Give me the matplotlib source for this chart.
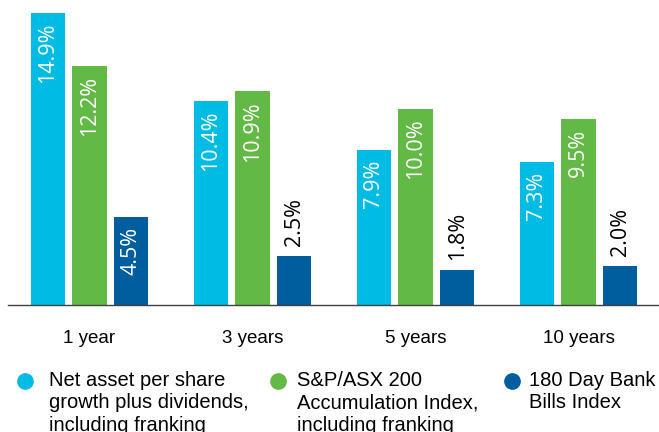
import matplotlib.pyplot as plt
from matplotlib.lines import Line2D
import numpy as np

# 数据
periods = ['1 year', '3 years', '5 years', '10 years']
nav_growth = [14.9, 10.4, 7.9, 7.3]
asx200 = [12.2, 10.9, 10.0, 9.5]
bank_bills = [4.5, 2.5, 1.8, 2.0]
series_names = ['Net asset per share\ngrowth plus dividends,\nincluding franking',
                'S&P/ASX 200\nAccumulation Index,\nincluding franking',
                '180 Day Bank\nBills Index']
colors = ['#00BCE4', '#63B946', '#005E9E']

W, H = 659, 432
fig = plt.figure(figsize=(W / 100, H / 100), dpi=100)
# 坐标轴位置（像素换算）
ax = fig.add_axes([8 / W, 127 / H, 652 / W, 294 / H])

x = np.arange(len(periods))
width = 0.209
step = 0.255
series = [nav_growth, asx200, bank_bills]

for i, (vals, c) in enumerate(zip(series, colors)):
    pos = x + (i - 1) * step
    ax.bar(pos, vals, width=width, color=c)
    for p, v in zip(pos, vals):
        label = f'{v:.1f}%'
        if v > 3:
            ax.annotate(label, (p, v), xytext=(0, -7), textcoords='offset points',
                        rotation=90, ha='center', va='top', color='white',
                        fontsize=15.5, family='Open Sans')
        else:
            ax.annotate(label, (p, v), xytext=(0, 7), textcoords='offset points',
                        rotation=90, ha='center', va='bottom', color='black',
                        fontsize=15.5, family='Open Sans')

ax.set_xlim(-0.5, 3.5)
ax.set_ylim(0, 15)
ax.set_xticks(x)
ax.set_xticklabels(periods, fontsize=13.5, family='Liberation Sans')
ax.tick_params(axis='x', length=0, pad=18)
ax.set_yticks([])
for s in ['top', 'right', 'left']:
    ax.spines[s].set_visible(False)
ax.spines['bottom'].set_color('#404040')
ax.spines['bottom'].set_linewidth(1.0)

# 图例（手动绘制）
circle_x = [25, 278, 512]
text_x = [49, 297, 529]
for cx, tx, name, c in zip(circle_x, text_x, series_names, colors):
    fig.add_artist(Line2D([cx / W], [1 - 381 / H], transform=fig.transFigure,
                          marker='o', markersize=11, color=c, linestyle=''))
    for k, line in enumerate(name.split('\n')):
        fig.text(tx / W, 1 - (386 + 22.5 * k) / H, line, fontsize=14.5,
                 family='Liberation Sans', ha='left', va='baseline')

plt.savefig('out.png', dpi=100)
